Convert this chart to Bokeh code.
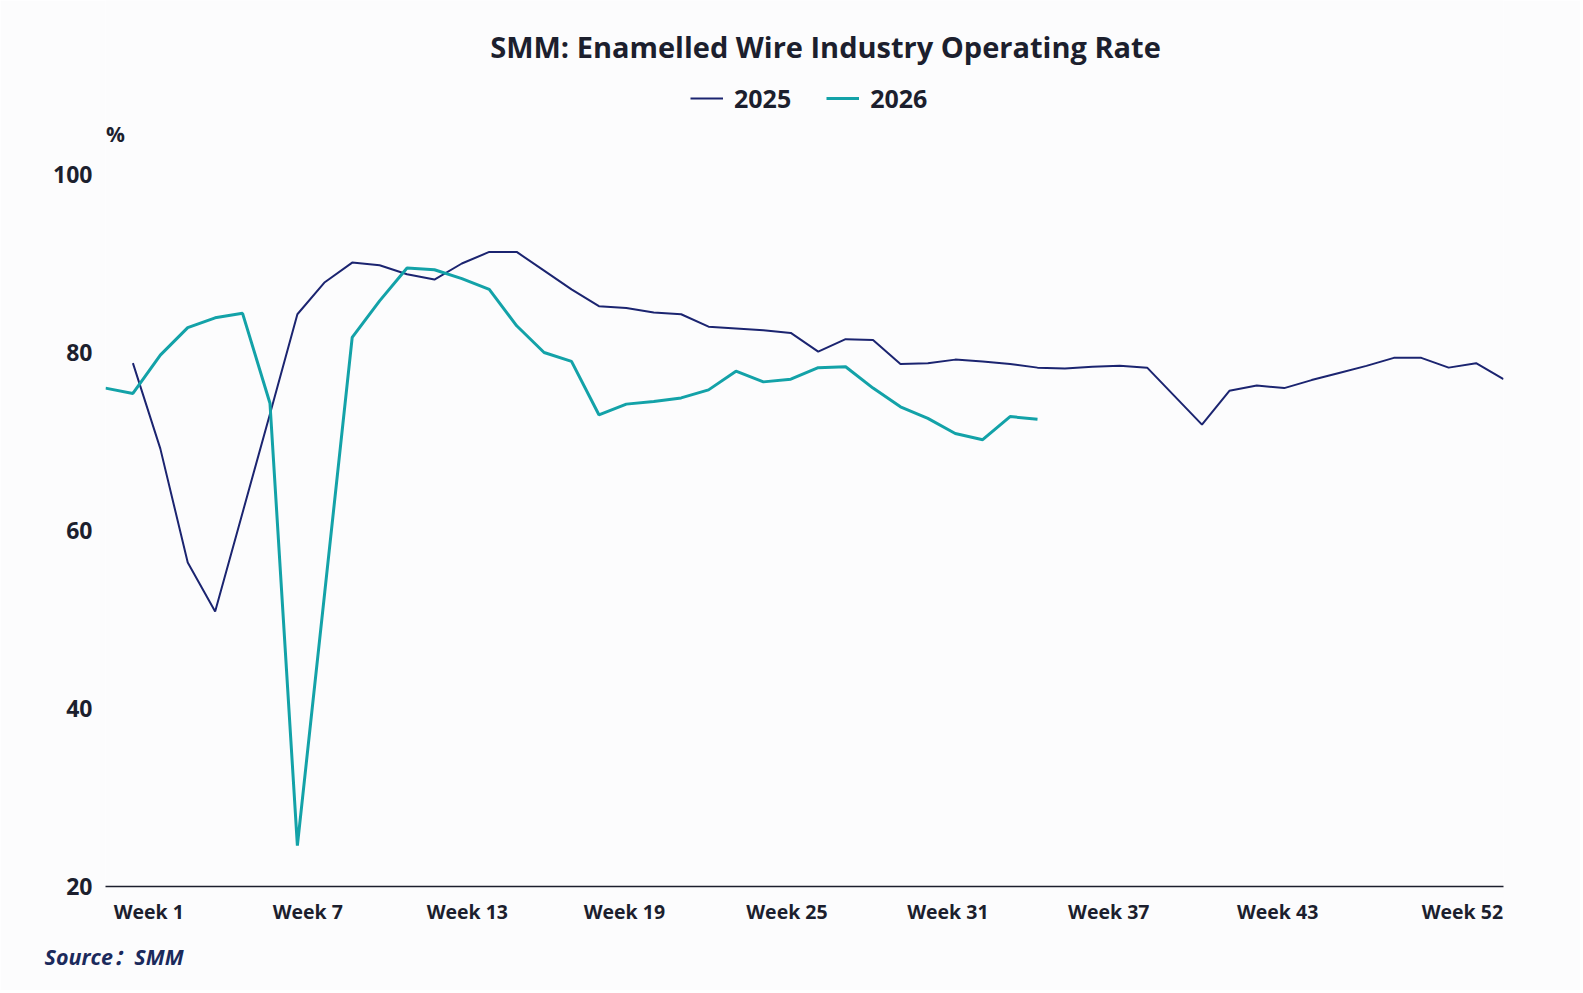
from bokeh.plotting import figure
from bokeh.models import (Range1d, FixedTicker, Label, Legend, LegendItem, Title)
from bokeh.embed import file_html
from bokeh.resources import INLINE

# ---- data ----
slots_2025 = list(range(1, 52))
rate_2025 = [78.8, 69.2, 56.4, 50.9, 62.0, 73.1, 84.3, 87.9, 90.1, 89.8,
             88.8, 88.2, 90.0, 91.3, 91.3, 89.2, 87.1, 85.2, 85.0, 84.5,
             84.3, 82.9, 82.7, 82.5, 82.2, 80.1, 81.5, 81.4, 78.7, 78.8,
             79.2, 79.0, 78.7, 78.3, 78.2, 78.4, 78.5, 78.3, 75.1, 71.9,
             75.7, 76.3, 76.0, 76.9, 77.7, 78.5, 79.4, 79.4, 78.3, 78.8,
             77.0]

slots_2026 = list(range(0, 35))
rate_2026 = [76.0, 75.4, 79.7, 82.8, 83.9, 84.4, 74.3, 24.6, 53.1, 81.7,
             85.8, 89.5, 89.3, 88.3, 87.1, 83.0, 80.0, 79.0, 73.0, 74.2,
             74.5, 74.9, 75.8, 77.9, 76.7, 77.0, 78.3, 78.4, 76.0, 73.9,
             72.6, 70.9, 70.2, 72.8, 72.5]

tick_labels = ["Week 1", "Week 7", "Week 13", "Week 19", "Week 25",
               "Week 31", "Week 37", "Week 43", "Week 52"]
tick_slots = [1.58, 7.38, 13.2, 18.93, 24.86, 30.73, 36.6, 42.76, 49.5]
y_ticks = [20, 40, 60, 80, 100]

NAVY = "#1b2470"
TEAL = "#13a2a8"
TEXT = "#1c1f2e"
BG = "#fcfcfd"
FONT = "Open Sans"

# ---- layout (pixels) ----
FRAME_L, FRAME_W = 105, 1398
FRAME_H = 886                 # frame reaches the top of the canvas
PX_PER_UNIT = 8.9             # 20 -> y=886, 100 -> y=174
X0, X1 = 0, 51
Y0 = 20
Y1 = Y0 + FRAME_H / PX_PER_UNIT


def dx(px):
    return X0 + (px - FRAME_L) * (X1 - X0) / FRAME_W


def dy(py):
    return Y0 + (FRAME_H - py) / PX_PER_UNIT


p = figure(output_backend="svg", toolbar_location=None,
           x_range=Range1d(X0, X1), y_range=Range1d(Y0, Y1),
           frame_width=FRAME_W, frame_height=FRAME_H,
           min_border_left=FRAME_L, min_border_right=77,
           min_border_top=0, min_border_bottom=104)
p.background_fill_color = BG
p.border_fill_color = BG
p.outline_line_color = None
p.grid.visible = False

r25 = p.line(slots_2025, rate_2025, line_color=NAVY, line_width=2)
r26 = p.line(slots_2026, rate_2026, line_color=TEAL, line_width=3)

# x axis
xa = p.xaxis[0]
xa.ticker = FixedTicker(ticks=tick_slots)
xa.major_label_overrides = {t: l for t, l in zip(tick_slots, tick_labels)}
xa.major_tick_line_color = None
xa.minor_tick_line_color = None
xa.axis_line_color = TEXT
xa.axis_line_width = 1.5
xa.major_label_text_font = FONT
xa.major_label_text_font_style = "bold"
xa.major_label_text_font_size = "19.5px"
xa.major_label_text_color = TEXT
xa.major_label_standoff = 5

# y axis
ya = p.yaxis[0]
ya.ticker = FixedTicker(ticks=y_ticks)
ya.major_tick_line_color = None
ya.minor_tick_line_color = None
ya.axis_line_color = None
ya.major_label_text_font = FONT
ya.major_label_text_font_style = "bold"
ya.major_label_text_font_size = "23px"
ya.major_label_text_color = TEXT
ya.major_label_standoff = 7

# title and unit (inside the extended frame)
p.add_layout(Label(x=dx(825), y=dy(46),
                   text="SMM: Enamelled Wire Industry Operating Rate",
                   text_align="center", text_baseline="middle",
                   text_font=FONT, text_font_style="bold",
                   text_font_size="29px", text_color=TEXT))
p.add_layout(Label(x=dx(115), y=dy(133),
                   text="%", text_align="center", text_baseline="middle",
                   text_font=FONT, text_font_style="bold",
                   text_font_size="21px", text_color=TEXT))

legend = Legend(items=[LegendItem(label="2025", renderers=[r25]),
                       LegendItem(label="2026", renderers=[r26])],
                orientation="horizontal", location=(585, 771),
                glyph_width=33, glyph_height=20, label_standoff=11,
                spacing=35, padding=0, margin=0,
                border_line_color=None, background_fill_alpha=0,
                label_text_font=FONT, label_text_font_style="bold",
                label_text_font_size="25px", label_text_color=TEXT)
p.add_layout(legend)

# source note below the axis
src = Title(text="Source：SMM", align="left", offset=44 - FRAME_L,
            standoff=24, text_font="'Open Sans', 'Noto Sans CJK SC'",
            text_font_style="bold italic",
            text_font_size="21.5px", text_color="#1b2a5c")
p.add_layout(src, "below")

open("out.html", "w").write(file_html(p, INLINE))
